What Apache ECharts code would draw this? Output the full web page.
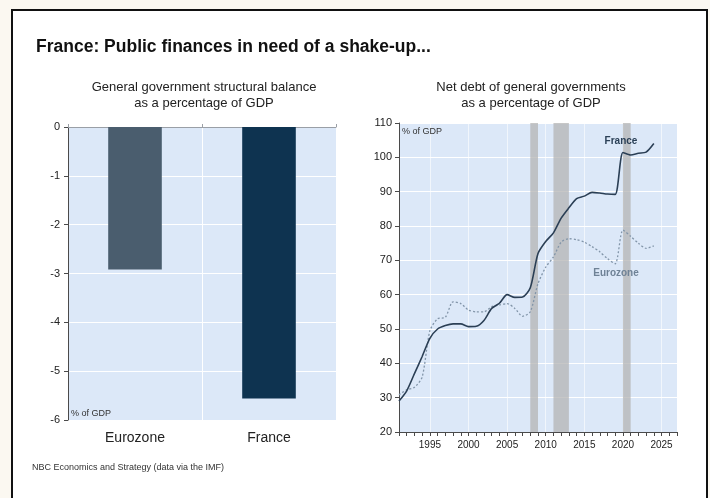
<!DOCTYPE html>
<html>
<head>
<meta charset="utf-8">
<script src="https://cdn.jsdelivr.net/npm/echarts@6/dist/echarts.min.js"></script>
<style>
  html, body { margin: 0; padding: 0; background: #fbf8f1; }
  #chart { width: 710px; height: 498px; }
</style>
</head>
<body>
<div id="chart"></div>
<script>
// Structural balance, % of GDP
const balanceCategories = ['Eurozone', 'France'];
const balanceValues = [-2.92, -5.56];
const balanceTicks = ['0', '-1', '-2', '-3', '-4', '-5', '-6'];

// Net debt of general governments, % of GDP (annual)
const years = ['1991','1992','1993','1994','1995','1996','1997','1998','1999','2000',
  '2001','2002','2003','2004','2005','2006','2007','2008','2009','2010',
  '2011','2012','2013','2014','2015','2016','2017','2018','2019','2020',
  '2021','2022','2023','2024','2025','2026','2027'];
const franceDebt = [29, 32, 37, 42, 47.3, 50, 51, 51.5, 51.5, 50.7,
  50.8, 52.5, 56, 57.5, 60, 59.2, 59.3, 62, 72, 75.5,
  78, 82.3, 85.3, 88, 88.7, 89.8, 89.6, 89.3, 89.2, 101.4,
  100.7, 101.2, 101.5, 104];
const eurozoneDebt = [30.8, 32.3, 33, 36, 49.5, 53, 53.4, 57.9, 57.4, 55.5,
  55, 55, 56.5, 57, 57.4, 56, 53.7, 55, 63.2, 68,
  71, 75.3, 76.3, 76, 75.3, 74, 72.5, 70.5, 69, 78.8,
  77, 75, 73.5, 74.2];
const yearTickLabels = ['1995', '2000', '2005', '2010', '2015', '2020', '2025'];
const recessionBands = [['2008', '2009'], ['2011', '2013'], ['2020', '2021']];

const FONT = '"Liberation Sans", Arial, sans-serif';
const plotBg = '#dce8f8';
const axisDark = '#4a4a4a';

const chart = echarts.init(document.getElementById('chart'), null, { renderer: 'canvas' });

chart.setOption({
  animation: false,
  textStyle: { fontFamily: FONT },
  graphic: [
    { type: 'rect', z: -10, shape: { x: 12, y: 10, width: 695, height: 500 },
      style: { fill: '#ffffff', stroke: '#111111', lineWidth: 2 } },
    { type: 'text', x: 36, y: 47, z: 100,
      style: { text: 'France: Public finances in need of a shake-up...', fill: '#111',
        verticalAlign: 'middle', font: 'bold 17.5px ' + FONT } },
    { type: 'text', x: 204, y: 95, z: 100,
      style: { text: 'General government structural balance\nas a percentage of GDP', fill: '#222',
        align: 'center', verticalAlign: 'middle', lineHeight: 16, font: '13px ' + FONT } },
    { type: 'text', x: 531, y: 95, z: 100,
      style: { text: 'Net debt of general governments\nas a percentage of GDP', fill: '#222',
        align: 'center', verticalAlign: 'middle', lineHeight: 16, font: '13px ' + FONT } },
    { type: 'text', x: 71, y: 414, z: 100,
      style: { text: '% of GDP', fill: '#333', verticalAlign: 'middle', font: '9px ' + FONT } },
    { type: 'text', x: 402, y: 132, z: 100,
      style: { text: '% of GDP', fill: '#333', verticalAlign: 'middle', font: '9px ' + FONT } },
    { type: 'text', x: 621, y: 141, z: 100,
      style: { text: 'France', fill: '#2b4057', align: 'center', verticalAlign: 'middle', font: 'bold 10px ' + FONT } },
    { type: 'text', x: 616, y: 273, z: 100,
      style: { text: 'Eurozone', fill: '#6f8296', align: 'center', verticalAlign: 'middle', font: 'bold 10px ' + FONT } },
    { type: 'text', x: 32, y: 468, z: 100,
      style: { text: 'NBC Economics and Strategy (data via the IMF)', fill: '#333', verticalAlign: 'middle',
        font: '9px ' + FONT } }
  ],
  grid: [
    { left: 68, top: 127, width: 268, height: 293, show: true, backgroundColor: plotBg, borderWidth: 0 },
    { left: 399, top: 123, width: 278, height: 309, show: true, backgroundColor: plotBg, borderWidth: 0 }
  ],
  xAxis: [
    { gridIndex: 0, type: 'category', data: balanceCategories, position: 'bottom',
      axisLine: { show: false }, axisTick: { show: false },
      axisLabel: { fontSize: 14, color: '#222', margin: 11 },
      splitLine: { show: true, lineStyle: { color: '#ffffff', width: 1 } } },
    { gridIndex: 0, type: 'category', data: balanceCategories, position: 'top',
      axisLine: { show: true, lineStyle: { color: '#9a9fa6', width: 1 } },
      axisTick: { show: true, length: 3, lineStyle: { color: '#9a9fa6' } },
      axisLabel: { show: false }, splitLine: { show: false } },
    { gridIndex: 1, type: 'category', data: years, boundaryGap: false,
      axisLine: { show: true, lineStyle: { color: axisDark, width: 1 } },
      axisTick: { show: true, interval: 0, length: 4, lineStyle: { color: axisDark } },
      axisLabel: { interval: (i, v) => yearTickLabels.includes(v), fontSize: 10, color: '#222', margin: 8 },
      splitLine: { show: true, interval: (i, v) => yearTickLabels.includes(v),
        lineStyle: { color: 'rgba(255,255,255,0.6)', width: 1 } } }
  ],
  yAxis: [
    { gridIndex: 0, type: 'value', min: -6, max: 0, interval: 1,
      axisLine: { show: true, lineStyle: { color: axisDark, width: 1 } },
      axisTick: { show: true, length: 4, lineStyle: { color: axisDark } },
      axisLabel: { fontSize: 11, color: '#222', margin: 8,
        formatter: v => balanceTicks[Math.round(-v)] },
      splitLine: { show: true, lineStyle: { color: '#ffffff', width: 1 } } },
    { gridIndex: 1, type: 'value', min: 20, max: 110, interval: 10,
      axisLine: { show: true, lineStyle: { color: axisDark, width: 1 } },
      axisTick: { show: true, length: 4, lineStyle: { color: axisDark } },
      axisLabel: { fontSize: 11, color: '#222', margin: 7 },
      splitLine: { show: true, lineStyle: { color: '#ffffff', width: 1 } } }
  ],
  series: [
    { type: 'bar', xAxisIndex: 0, yAxisIndex: 0, barWidth: '40%',
      data: balanceValues.map((v, i) => ({ value: v,
        itemStyle: { color: i === 0 ? '#4a5d6e' : '#0e3350' } })) },
    { type: 'line', name: 'Eurozone', xAxisIndex: 2, yAxisIndex: 1, data: eurozoneDebt,
      smooth: 0.25, showSymbol: false, z: 3,
      lineStyle: { color: '#8295a9', width: 1.3, type: [2, 2] },
      markArea: { silent: true, itemStyle: { color: 'rgba(180,180,180,0.75)' },
        data: recessionBands.map(b => [{ xAxis: b[0] }, { xAxis: b[1] }]) } },
    { type: 'line', name: 'France', xAxisIndex: 2, yAxisIndex: 1, data: franceDebt,
      smooth: 0.25, showSymbol: false, z: 4,
      lineStyle: { color: '#2b3f55', width: 1.6 } }
  ]
});
</script>
</body>
</html>
